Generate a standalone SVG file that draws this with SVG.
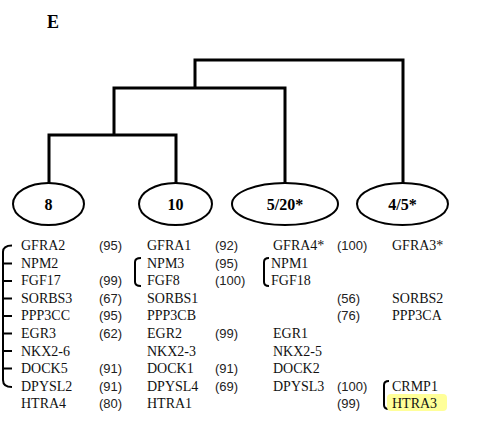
<svg xmlns="http://www.w3.org/2000/svg" width="487" height="422" viewBox="0 0 487 422">
<style>
.bg{fill:#fff}
.tree{fill:none;stroke:#000;stroke-width:3;stroke-linejoin:miter}
.node ellipse{fill:#fff;stroke:#000;stroke-width:2}
.node text{font-weight:bold;font-size:16px;text-anchor:middle;fill:#000}
.title{font-weight:bold;font-size:18px;fill:#000}
.gene{font-size:14px;fill:#111}
.num{font-size:13px;fill:#222}
.br{fill:none;stroke:#000;stroke-width:2}
.hl{fill:#ffff99}
</style>
<rect class="bg" x="0" y="0" width="487" height="422"/>
<text class="title" x="47" y="28" font-family="Liberation Serif, serif">E</text>
<g id="connectors">
<path class="tree" d="M49,183 V135 H176 V183"/>
<path class="tree" d="M114,135 V88 H285 V183"/>
<path class="tree" d="M195,88 V60 H403 V183"/>
</g>
<g font-family="Liberation Serif, serif">
<g id="node-8" class="node"><ellipse cx="48.5" cy="204" rx="35.5" ry="21"/><text x="48.5" y="210">8</text></g>
<g id="node-10" class="node"><ellipse cx="175.5" cy="204" rx="36.5" ry="21"/><text x="175.5" y="210">10</text></g>
<g id="node-5-20" class="node"><ellipse cx="285" cy="204" rx="53" ry="21"/><text x="285" y="210">5/20*</text></g>
<g id="node-4-5" class="node"><ellipse cx="402.5" cy="204" rx="45.5" ry="21"/><text x="402.5" y="210">4/5*</text></g>
</g>
<g id="brackets">
<path class="br" d="M12,245.5 Q3,245.5 3,252 V380 Q3,387 12,387"/>
<path class="br" d="M3,263.5 H12 M3,281 H12 M3,298.5 H12 M3,316 H12 M3,333.5 H12 M3,351 H12 M3,368.5 H12"/>
<path class="br" d="M141,258 Q135,258 135,262 V282 Q135,286 141,286"/>
<path class="br" d="M269,258 Q264,258 264,262 V282 Q264,286 269,286"/>
<path class="br" d="M389,381 Q384,381 384,385 V405 Q384,409 389,409"/>
</g>
<rect class="hl" x="387" y="394" width="60" height="17" rx="4"/>
<g id="genes" class="gene" font-family="Liberation Serif, serif">
<text x="21" y="250">GFRA2</text><text x="147" y="250">GFRA1</text><text x="273" y="250">GFRA4*</text><text x="392" y="250">GFRA3*</text>
<text x="21" y="267.6">NPM2</text><text x="147" y="267.6">NPM3</text><text x="271" y="267.6">NPM1</text>
<text x="21" y="285.2">FGF17</text><text x="147" y="285.2">FGF8</text><text x="271" y="285.2">FGF18</text>
<text x="21" y="302.8">SORBS3</text><text x="147" y="302.8">SORBS1</text><text x="392" y="302.8">SORBS2</text>
<text x="21" y="320.4">PPP3CC</text><text x="147" y="320.4">PPP3CB</text><text x="392" y="320.4">PPP3CA</text>
<text x="21" y="338">EGR3</text><text x="147" y="338">EGR2</text><text x="273" y="338">EGR1</text>
<text x="21" y="355.6">NKX2-6</text><text x="147" y="355.6">NKX2-3</text><text x="273" y="355.6">NKX2-5</text>
<text x="21" y="373.2">DOCK5</text><text x="147" y="373.2">DOCK1</text><text x="273" y="373.2">DOCK2</text>
<text x="21" y="390.8">DPYSL2</text><text x="147" y="390.8">DPYSL4</text><text x="273" y="390.8">DPYSL3</text><text x="392" y="390.8">CRMP1</text>
<text x="21" y="408.4">HTRA4</text><text x="147" y="408.4">HTRA1</text><text x="392" y="408.4">HTRA3</text>
</g>
<g id="numbers" class="num" font-family="Liberation Sans, Arial, sans-serif">
<text x="99" y="250">(95)</text><text x="215" y="250">(92)</text><text x="337" y="250">(100)</text>
<text x="215" y="267.6">(95)</text>
<text x="99" y="285.2">(99)</text><text x="215" y="285.2">(100)</text>
<text x="99" y="302.8">(67)</text><text x="337" y="302.8">(56)</text>
<text x="99" y="320.4">(95)</text><text x="337" y="320.4">(76)</text>
<text x="99" y="338">(62)</text><text x="215" y="338">(99)</text>
<text x="99" y="373.2">(91)</text><text x="215" y="373.2">(91)</text>
<text x="99" y="390.8">(91)</text><text x="215" y="390.8">(69)</text><text x="337" y="390.8">(100)</text>
<text x="99" y="408.4">(80)</text><text x="337" y="408.4">(99)</text>
</g>
</svg>
